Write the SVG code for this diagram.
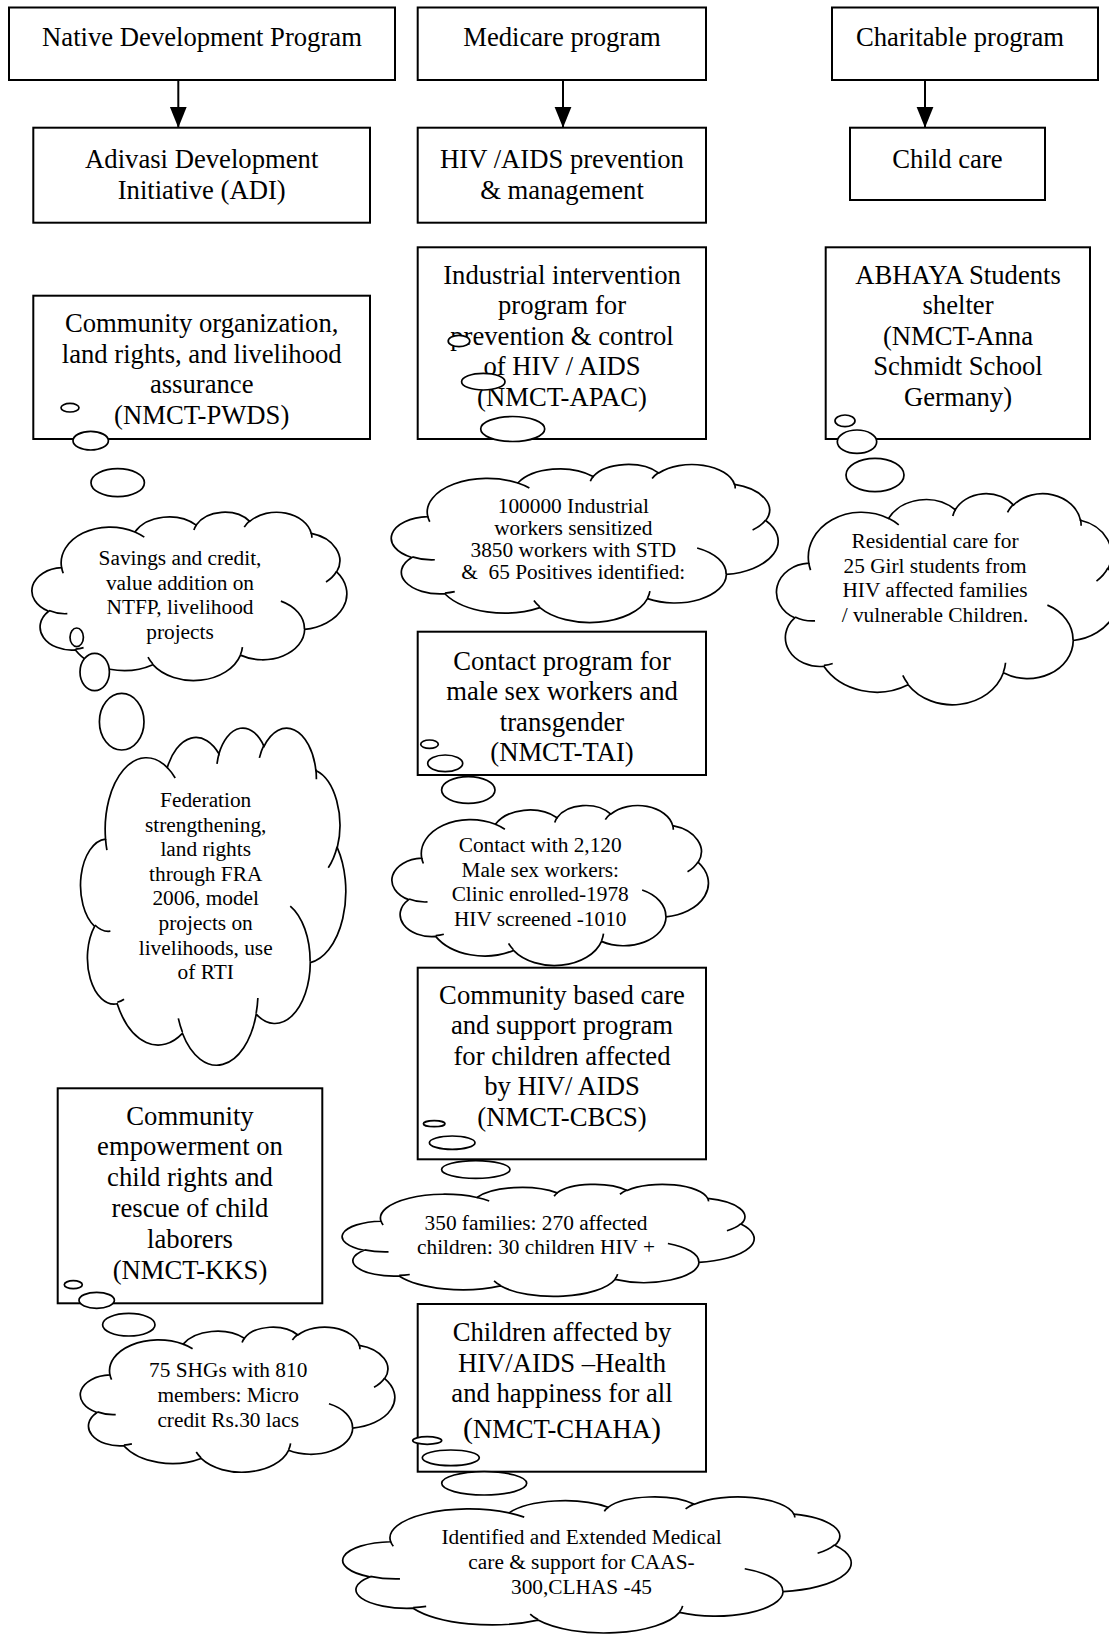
<svg xmlns="http://www.w3.org/2000/svg" xmlns:xlink="http://www.w3.org/1999/xlink" width="1109" height="1634" viewBox="0 0 1109 1634">
<style>
.box{fill:#fff;stroke:#000;stroke-width:2}
.t{font-family:"Liberation Serif","Times New Roman",serif;font-size:26.67px;text-anchor:middle;fill:#000}
.c{font-size:21.33px}
.cb{fill:#fff;stroke:#000;stroke-width:1.7}
.cr{fill:none;stroke:#000;stroke-width:1.7}
.bub{fill:#fff;stroke:#000;stroke-width:1.7}
.conn{stroke:#000;stroke-width:2;fill:none}
</style>
<defs>
<marker id="arr" markerUnits="userSpaceOnUse" markerWidth="22" markerHeight="18" refX="21" refY="8.5" orient="auto">
<path d="M0,0 L21,8.5 L0,17 Z" fill="#000"/>
</marker>
<path id="cloudBody" class="cb" vector-effect="non-scaling-stroke" d="M90.3,332.6 A156.3,212.7 0 0 1 324.2,120.4 A123.4,168.2 0 0 1 519.8,79.5 A101,137.6 0 0 1 690.6,57.4 A112.4,152.7 0 0 1 887,129.1 A123.4,168.4 0 0 1 968,357.9 A156.8,213.4 0 0 1 865.8,699.1 A133.9,182.1 0 0 1 661,852.2 A156.3,213.3 0 0 1 381.5,908.9 A178.7,244.1 0 0 1 134.4,821.2 A100.9,137 0 0 1 48.9,591.5 A100.6,137.6 0 0 1 90.3,332.6 Z"/>
<path id="cloudCrease" class="cr" vector-effect="non-scaling-stroke" d="M108.6,605.9 A100.6,137.6 0 0 1 50,587.5 M160.4,807.9 A100.9,137 0 0 1 134.7,816.7 M381.4,904.9 A156.3,213.3 0 0 1 366,864.5 M667.3,804.4 A156.3,213.3 0 0 1 661.1,848.6 M790,531.3 A133.9,182.1 0 0 1 865.3,696.5 M967.5,355.4 A123.4,168.4 0 0 1 934,417.4 M887.1,125.6 A112.4,152.7 0 0 1 888.9,154.9 M673.1,91.5 A112.4,152.7 0 0 1 690.3,54.1 M512.5,109.3 A101,137.6 0 0 1 520.8,77.1 M324.1,120.2 A156.3,212.7 0 0 1 354.2,151.4 M95.5,365.5 A156.3,212.7 0 0 1 90.3,332.6"/>
</defs>
<rect width="1109" height="1634" fill="#fff"/>

<g id="connectors">
<line class="conn" x1="178.3" y1="80" x2="178.3" y2="127.7" marker-end="url(#arr)"/>
<line class="conn" x1="563" y1="80" x2="563" y2="127.7" marker-end="url(#arr)"/>
<line class="conn" x1="925" y1="80" x2="925" y2="127.7" marker-end="url(#arr)"/>
</g>

<g id="native-development-program">
<rect class="box" x="9" y="7.5" width="386" height="72.5"/>
<text class="t" x="202" y="46">Native Development Program</text>
</g>
<g id="medicare-program">
<rect class="box" x="417.7" y="7.5" width="288.3" height="72.5"/>
<text class="t" x="562" y="46">Medicare program</text>
</g>
<g id="charitable-program">
<rect class="box" x="832" y="7.5" width="266" height="72.5"/>
<text class="t" x="960" y="46">Charitable program</text>
</g>

<g id="adi">
<rect class="box" x="33.3" y="127.7" width="336.7" height="95"/>
<text class="t" x="201.7" y="168">Adivasi Development</text>
<text class="t" x="201.7" y="198.5">Initiative (ADI)</text>
</g>
<g id="hiv-aids">
<rect class="box" x="417.7" y="127.7" width="288.3" height="95"/>
<text class="t" x="562" y="168">HIV /AIDS prevention</text>
<text class="t" x="562" y="198.5">&amp; management</text>
</g>
<g id="child-care">
<rect class="box" x="850" y="127.7" width="195" height="72.3"/>
<text class="t" x="947.5" y="168">Child care</text>
</g>

<g id="pwds">
<rect class="box" x="33.3" y="295.7" width="336.7" height="143.3"/>
<text class="t" x="201.7" y="332">Community organization,</text>
<text class="t" x="201.7" y="362.7">land rights, and livelihood</text>
<text class="t" x="201.7" y="393.4">assurance</text>
<text class="t" x="201.7" y="424.1">(NMCT-PWDS)</text>
</g>
<g id="apac">
<rect class="box" x="417.7" y="247.3" width="288.3" height="191.7"/>
<text class="t" x="562" y="283.5">Industrial intervention</text>
<text class="t" x="562" y="314">program for</text>
<text class="t" x="562" y="344.5">prevention &amp; control</text>
<text class="t" x="562" y="375">of HIV / AIDS</text>
<text class="t" x="562" y="405.5">(NMCT-APAC)</text>
</g>
<g id="abhaya">
<rect class="box" x="825.7" y="247.3" width="264.3" height="191.7"/>
<text class="t" x="958" y="283.5">ABHAYA Students</text>
<text class="t" x="958" y="314">shelter</text>
<text class="t" x="958" y="344.5">(NMCT-Anna</text>
<text class="t" x="958" y="375">Schmidt School</text>
<text class="t" x="958" y="405.5">Germany)</text>
</g>
<g id="tai">
<rect class="box" x="417.7" y="631.7" width="288.3" height="143.3"/>
<text class="t" x="562" y="669.5">Contact program for</text>
<text class="t" x="562" y="700">male sex workers and</text>
<text class="t" x="562" y="730.5">transgender</text>
<text class="t" x="562" y="761">(NMCT-TAI)</text>
</g>
<g id="cbcs">
<rect class="box" x="417.7" y="967.7" width="288.3" height="191.6"/>
<text class="t" x="562" y="1003.7">Community based care</text>
<text class="t" x="562" y="1034.2">and support program</text>
<text class="t" x="562" y="1064.7">for children affected</text>
<text class="t" x="562" y="1095.2">by HIV/ AIDS</text>
<text class="t" x="562" y="1125.7">(NMCT-CBCS)</text>
</g>
<g id="kks">
<rect class="box" x="57.7" y="1088.3" width="264.6" height="215"/>
<text class="t" x="190" y="1124.5">Community</text>
<text class="t" x="190" y="1155.4">empowerment on</text>
<text class="t" x="190" y="1186.3">child rights and</text>
<text class="t" x="190" y="1217.2">rescue of child</text>
<text class="t" x="190" y="1248.1">laborers</text>
<text class="t" x="190" y="1279">(NMCT-KKS)</text>
</g>
<g id="chaha">
<rect class="box" x="417.7" y="1304" width="288.3" height="167.7"/>
<text class="t" x="562" y="1341">Children affected by</text>
<text class="t" x="562" y="1371.5">HIV/AIDS –Health</text>
<text class="t" x="562" y="1402">and happiness for all</text>
<text class="t" x="562" y="1437.7"><tspan font-size="30">(</tspan>NMCT-CHAHA<tspan font-size="30">)</tspan></text>
</g>

<g id="cloud-savings">
<g transform="translate(33.3,511.7) scale(0.3134,0.1683)"><use href="#cloudBody"/><use href="#cloudCrease"/></g>
<text class="t c" x="180" y="565">Savings and credit,</text>
<text class="t c" x="180" y="589.5">value addition on</text>
<text class="t c" x="180" y="614">NTFP, livelihood</text>
<text class="t c" x="180" y="638.5">projects</text>
<ellipse class="bub" cx="70" cy="407.7" rx="9" ry="4.3"/>
<ellipse class="bub" cx="90.7" cy="440.7" rx="17.7" ry="9.3"/>
<ellipse class="bub" cx="117.7" cy="482.7" rx="26.7" ry="14"/>
</g>
<g id="cloud-federation">
<g transform="translate(81.7,727) scale(0.264,0.337)"><use href="#cloudBody"/><use href="#cloudCrease"/></g>
<text class="t c" x="205.7" y="807">Federation</text>
<text class="t c" x="205.7" y="831.6">strengthening,</text>
<text class="t c" x="205.7" y="856.2">land rights</text>
<text class="t c" x="205.7" y="880.8">through FRA</text>
<text class="t c" x="205.7" y="905.4">2006, model</text>
<text class="t c" x="205.7" y="930">projects on</text>
<text class="t c" x="205.7" y="954.6">livelihoods, use</text>
<text class="t c" x="205.7" y="979.2">of RTI</text>
<ellipse class="bub" cx="76.7" cy="637.3" rx="6.7" ry="9.3"/>
<ellipse class="bub" cx="94.7" cy="672" rx="14.7" ry="18.7"/>
<ellipse class="bub" cx="121.7" cy="721.7" rx="22.3" ry="28.3"/>
</g>
<g id="cloud-industrial">
<g transform="translate(393,464) scale(0.385,0.158)"><use href="#cloudBody"/><use href="#cloudCrease"/></g>
<text class="t c" x="573.3" y="513.4">100000 Industrial</text>
<text class="t c" x="573.3" y="535.1">workers sensitized</text>
<text class="t c" x="573.3" y="556.8">3850 workers with STD</text>
<text class="t c" x="573.3" y="578.5" xml:space="preserve">&amp;  65 Positives identified:</text>
<ellipse class="bub" cx="459" cy="341" rx="10.8" ry="5.7"/>
<ellipse class="bub" cx="483.3" cy="381.7" rx="21.7" ry="8.3"/>
<ellipse class="bub" cx="512.7" cy="429" rx="32" ry="12.5"/>
</g>
<g id="cloud-residential">
<g transform="translate(778,493) scale(0.341,0.211)"><use href="#cloudBody"/><use href="#cloudCrease"/></g>
<text class="t c" x="935" y="548">Residential care for</text>
<text class="t c" x="935" y="572.7">25 Girl students from</text>
<text class="t c" x="935" y="597.4">HIV affected families</text>
<text class="t c" x="935" y="622.1">/ vulnerable Children.</text>
<ellipse class="bub" cx="845" cy="420.8" rx="10" ry="5.8"/>
<ellipse class="bub" cx="857" cy="441.7" rx="19.7" ry="11.7"/>
<ellipse class="bub" cx="875" cy="475" rx="29" ry="16.7"/>
</g>
<g id="cloud-contact">
<g transform="translate(393.3,805) scale(0.315,0.16)"><use href="#cloudBody"/><use href="#cloudCrease"/></g>
<text class="t c" x="540.2" y="852.4">Contact with 2,120</text>
<text class="t c" x="540.2" y="876.8">Male sex workers:</text>
<text class="t c" x="540.2" y="901.2">Clinic enrolled-1978</text>
<text class="t c" x="540.2" y="925.6">HIV screened -1010</text>
<ellipse class="bub" cx="429.5" cy="744.2" rx="8.8" ry="4.2"/>
<ellipse class="bub" cx="445.2" cy="763.3" rx="17.5" ry="8.3"/>
<ellipse class="bub" cx="468.3" cy="790" rx="26.7" ry="13.3"/>
</g>
<g id="cloud-families">
<g transform="translate(344,1184) scale(0.41,0.112)"><use href="#cloudBody"/><use href="#cloudCrease"/></g>
<text class="t c" x="536" y="1230">350 families: 270 affected</text>
<text class="t c" x="536" y="1254">children: 30 children HIV +</text>
<ellipse class="bub" cx="434.2" cy="1123.7" rx="10.8" ry="3"/>
<ellipse class="bub" cx="452.2" cy="1142.7" rx="22.8" ry="6.7"/>
<ellipse class="bub" cx="475.8" cy="1169.5" rx="34.2" ry="8.8"/>
</g>
<g id="cloud-shg">
<g transform="translate(81.7,1326.7) scale(0.313,0.145)"><use href="#cloudBody"/><use href="#cloudCrease"/></g>
<text class="t c" x="228.2" y="1376.8">75 SHGs with 810</text>
<text class="t c" x="228.2" y="1401.8">members: Micro</text>
<text class="t c" x="228.2" y="1426.8">credit Rs.30 lacs</text>
<ellipse class="bub" cx="73.3" cy="1284.7" rx="9" ry="4"/>
<ellipse class="bub" cx="96.7" cy="1300.3" rx="17.7" ry="8"/>
<ellipse class="bub" cx="128.8" cy="1324.7" rx="26.2" ry="11.3"/>
</g>
<g id="cloud-medical">
<g transform="translate(345,1496.5) scale(0.506,0.136)"><use href="#cloudBody"/><use href="#cloudCrease"/></g>
<text class="t c" x="581.5" y="1544">Identified and Extended Medical</text>
<text class="t c" x="581.5" y="1569">care &amp; support for CAAS-</text>
<text class="t c" x="581.5" y="1594">300,CLHAS -45</text>
<ellipse class="bub" cx="427.2" cy="1440.5" rx="14.5" ry="3.8"/>
<ellipse class="bub" cx="450.8" cy="1457.8" rx="28.5" ry="7.8"/>
<ellipse class="bub" cx="484.2" cy="1483.3" rx="42.5" ry="11.7"/>
</g>
</svg>
